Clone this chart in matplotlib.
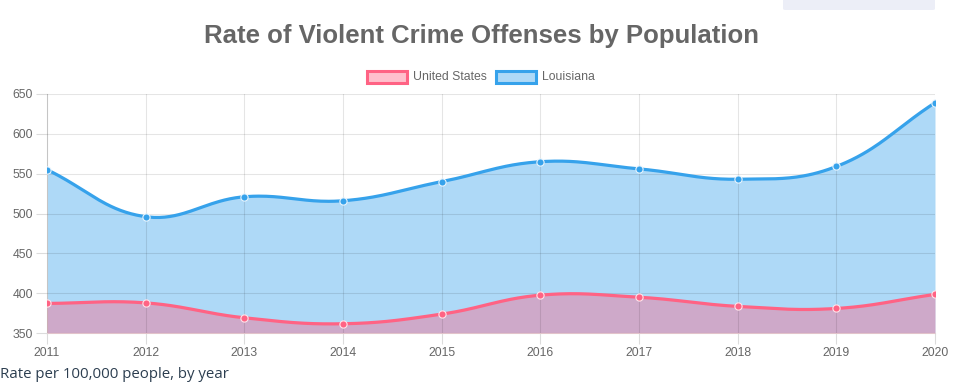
import numpy as np
import matplotlib
matplotlib.use("Agg")
import matplotlib.pyplot as plt
from matplotlib.patches import Rectangle, FancyBboxPatch

years = [2011, 2012, 2013, 2014, 2015, 2016, 2017, 2018, 2019, 2020]
us_rate = [387.1, 387.8, 369.1, 361.6, 373.7, 397.5, 394.9, 383.4, 380.8, 398.5]
la_rate = [555.0, 496.0, 521.0, 516.0, 540.0, 565.0, 556.0, 543.0, 559.0, 639.0]
y_ticks = [350, 400, 450, 500, 550, 600, 650]

W, H = 954, 389
ax_left, ax_right, ax_top, ax_bottom = 47, 935, 94, 333


def spline(xs, ys, tension=0.4, n=40):
    # chart.js style bezier smoothing, done in pixel space
    sx = (ax_right - ax_left) / (xs[-1] - xs[0])
    sy = (ax_bottom - ax_top) / (y_ticks[-1] - y_ticks[0])
    px = (np.array(xs, float) - xs[0]) * sx
    py = (np.array(ys, float) - y_ticks[0]) * sy
    m = len(px)
    cp_prev, cp_next = [], []
    for i in range(m):
        p0 = (px[max(i - 1, 0)], py[max(i - 1, 0)])
        p1 = (px[i], py[i])
        p2 = (px[min(i + 1, m - 1)], py[min(i + 1, m - 1)])
        d01 = np.hypot(p1[0] - p0[0], p1[1] - p0[1])
        d12 = np.hypot(p2[0] - p1[0], p2[1] - p1[1])
        s01 = d01 / (d01 + d12) if d01 + d12 else 0
        s12 = d12 / (d01 + d12) if d01 + d12 else 0
        fa, fb = tension * s01, tension * s12
        cp_prev.append((p1[0] - fa * (p2[0] - p0[0]), p1[1] - fa * (p2[1] - p0[1])))
        cp_next.append((p1[0] + fb * (p2[0] - p0[0]), p1[1] + fb * (p2[1] - p0[1])))
    ox, oy = [], []
    t = np.linspace(0, 1, n)
    for i in range(m - 1):
        a = np.array([px[i], py[i]])
        b = np.array(cp_next[i])
        c = np.array(cp_prev[i + 1])
        d = np.array([px[i + 1], py[i + 1]])
        pts = ((1 - t) ** 3)[:, None] * a + (3 * (1 - t) ** 2 * t)[:, None] * b \
            + (3 * (1 - t) * t ** 2)[:, None] * c + (t ** 3)[:, None] * d
        ox.extend(pts[:, 0])
        oy.extend(pts[:, 1])
    return np.array(ox) / sx + xs[0], np.array(oy) / sy + y_ticks[0]


fig = plt.figure(figsize=(W / 100, H / 100), dpi=100)
ax = fig.add_axes([ax_left / W, 1 - ax_bottom / H,
                   (ax_right - ax_left) / W, (ax_bottom - ax_top) / H])

blue = "#36A2EB"
pink = "#FF6384"

lx, ly = spline(years, la_rate)
ux, uy = spline(years, us_rate)

ax.fill_between(lx, y_ticks[0], ly, color=blue, alpha=0.4, lw=0, zorder=2)
ax.fill_between(ux, y_ticks[0], uy, color=pink, alpha=0.4, lw=0, zorder=3)
ax.plot(lx, ly, color=blue, lw=2.3, zorder=5, solid_capstyle="round")
ax.plot(ux, uy, color=pink, lw=2.3, zorder=6, solid_capstyle="round")
ax.plot(years, la_rate, "o", ms=5.2, color=blue, mec="#e8f4fd", mew=0.8, zorder=7)
ax.plot(years, us_rate, "o", ms=5.2, color=pink, mec="#ffe4ea", mew=0.8, zorder=8)

ax.set_xlim(years[0], years[-1])
ax.set_ylim(y_ticks[0], y_ticks[-1])
ax.set_xticks(years)
ax.set_yticks(y_ticks)
# grid drawn over the fills, like the translucent lines in the original
for yv in y_ticks:
    ax.axhline(yv, color="black", alpha=0.1, lw=0.8, zorder=4)
for xv in years:
    ax.axvline(xv, color="black", alpha=0.1, lw=0.8, zorder=4)
ax.tick_params(colors="#dcdcdc", labelcolor="#666666", labelsize=8.8, length=8, width=0.8, pad=2)
for lab in ax.get_xticklabels() + ax.get_yticklabels():
    lab.set_family("Liberation Sans")
for s in ["top", "right"]:
    ax.spines[s].set_visible(False)
for s in ["left", "bottom"]:
    ax.spines[s].set_color("#dcdcdc")
    ax.spines[s].set_linewidth(0.8)

fig.text(482 / W, 1 - 36 / H, "Rate of Violent Crime Offenses by Population",
         ha="center", va="center", fontsize=18.5, fontweight="bold",
         color="#666666", family="Liberation Sans")

# legend
leg_items = [("United States", pink), ("Louisiana", blue)]
x0 = 367
for label, col in leg_items:
    fig.patches.append(Rectangle((x0 / W, 1 - 83 / H), 40 / W, 12 / H,
                                 transform=fig.transFigure, facecolor=col,
                                 alpha=0.4, lw=0))
    fig.patches.append(Rectangle((x0 / W, 1 - 83 / H), 40 / W, 12 / H,
                                 transform=fig.transFigure, facecolor="none",
                                 edgecolor=col, lw=2.2))
    fig.text((x0 + 46) / W, 1 - 77.5 / H, label, ha="left", va="center",
             fontsize=8.8, color="#666666", family="Liberation Sans")
    x0 += 129

fig.text(0, 1 - 374 / H, "Rate per 100,000 people, by year", ha="left",
         va="center", fontsize=10.85, color="#2c3e50", family="Open Sans")

# box top right
fig.patches.append(FancyBboxPatch((783 / W, 1 - 10 / H), 152 / W, 14 / H,
                                  boxstyle="round,pad=0,rounding_size=0.003",
                                  transform=fig.transFigure,
                                  facecolor="#eceef7", lw=0))

fig.savefig("out.png", dpi=100)
